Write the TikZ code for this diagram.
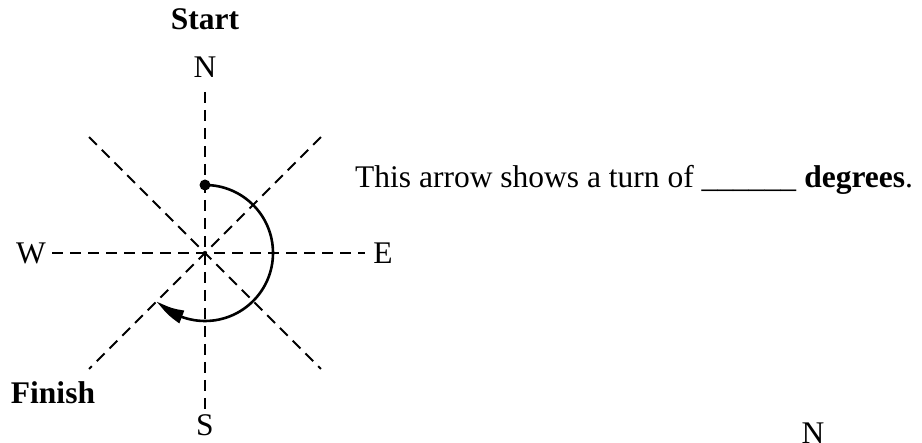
\documentclass[tikz,border=0pt]{standalone}
\usepackage{fontspec}
\setmainfont{Liberation Serif}
\usetikzlibrary{arrows.meta,bending}

\begin{document}
\begin{tikzpicture}[x=1pt,y=1pt,
  lab/.style={font=\fontsize{31.5}{36}\selectfont, inner sep=0pt},
  axisline/.style={line width=2.8pt, dash pattern=on 11pt off 7pt},
  diagline/.style={line width=2pt, dash pattern=on 11pt off 7pt},
  turnarc/.style={line width=2.6pt, -{Triangle[length=30pt,width=13pt,bend]}}]
  \useasboundingbox (0,0) rectangle (922,443);
  \coordinate (c) at (205,190);
  % compass labels
  \node[lab, font=\fontsize{31.5}{36}\selectfont\bfseries] (start) at (205,424) {Start};
  \node[lab] (lN) at (205,376) {N};
  \node[lab] (lS) at (205,17.5) {S};
  \node[lab] (lW) at (31,190) {W};
  \node[lab] (lE) at (383,190) {E};
  \node[lab, font=\fontsize{31.5}{36}\selectfont\bfseries] (finish) at (53,50) {Finish};
  % line ends
  \coordinate (n) at (205,351);
  \coordinate (s) at (205,29);
  \coordinate (w) at (52,190);
  \coordinate (e) at (365,190);
  \path (c) ++(45:164) coordinate (ne) (c) ++(135:164) coordinate (nw)
        (c) ++(225:164) coordinate (sw) (c) ++(-45:164) coordinate (se);
  \draw[axisline] (n) -- (s);
  \draw[axisline] (w) -- (e);
  \draw[diagline] (nw) -- (se);
  \draw[diagline] (ne) -- (sw);
  % the turn
  \path (c) ++(90:68) coordinate (dot);
  \fill (dot) circle (5.5pt);
  \draw[turnarc] (dot) arc[start angle=90, end angle=-135, radius=68pt];
  \node[lab, anchor=base west] (question) at (355,255)
    {This arrow shows a turn of \_\_\_\_\_\_ \textbf{degrees}.};
  \node[lab, anchor=base] (nextN) at (813,-1) {N};
\end{tikzpicture}
\end{document}
